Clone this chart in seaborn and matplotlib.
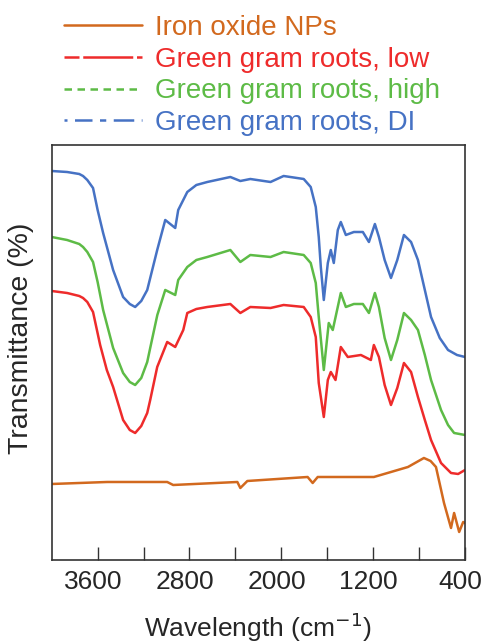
import numpy as np
import pandas as pd
import matplotlib
matplotlib.use("Agg")
import matplotlib.pyplot as plt
import matplotlib.transforms as mtransforms
from matplotlib.lines import Line2D
import seaborn as sns

# spectra (wavenumber, relative transmittance, arbitrary offsets)
wn_di = [4000, 3866, 3760, 3727, 3690, 3640, 3600, 3552, 3465, 3378, 3320, 3273, 3220, 3168,
         3081, 3011, 2924, 2898, 2819, 2740, 2645, 2444, 2357, 2270, 2094, 1980, 1805, 1744,
         1700, 1674, 1656, 1630, 1595, 1569, 1543, 1508, 1482, 1438, 1368, 1290, 1237, 1185,
         1150, 1100, 1045, 990, 932, 870, 810, 750, 696, 620, 548, 470, 400]
t_di = [389, 388, 386, 384, 380, 372, 350, 327, 290, 263, 256, 253, 259, 270,
        310, 340, 332, 350, 368, 375, 378, 383, 379, 381, 378, 384, 381, 373,
        353, 323, 293, 260, 297, 310, 297, 330, 338, 325, 328, 328, 318, 336,
        323, 300, 282, 300, 325, 318, 300, 270, 243, 222, 210, 205, 203]

wn_high = [4000, 3866, 3760, 3727, 3690, 3640, 3600, 3552, 3465, 3378, 3320, 3273, 3220, 3168,
           3142, 3080, 3011, 2924, 2898, 2819, 2740, 2645, 2444, 2357, 2270, 2094, 1980, 1805,
           1744, 1700, 1674, 1630, 1587, 1552, 1482, 1438, 1368, 1290, 1237, 1185, 1150, 1100,
           1045, 990, 932, 870, 810, 750, 696, 609, 548, 495, 400]
t_high = [323, 320, 316, 313, 308, 298, 278, 250, 212, 187, 178, 175, 182, 198,
          212, 245, 270, 265, 280, 293, 300, 303, 310, 298, 305, 303, 308, 305,
          297, 277, 243, 190, 237, 230, 267, 253, 256, 256, 247, 267, 253, 222,
          200, 220, 247, 240, 230, 205, 180, 150, 135, 127, 125]

wn_low = [4000, 3866, 3760, 3727, 3690, 3640, 3578, 3520, 3465, 3378, 3320, 3273, 3220, 3168,
          3142, 3081, 2994, 2924, 2854, 2819, 2740, 2645, 2444, 2357, 2270, 2094, 1980, 1805,
          1744, 1700, 1674, 1630, 1595, 1569, 1528, 1482, 1421, 1307, 1220, 1194, 1150, 1100,
          1045, 990, 932, 870, 810, 750, 696, 609, 522, 460, 400]
t_low = [269, 267, 264, 262, 258, 248, 215, 190, 173, 140, 130, 127, 134, 147,
         160, 193, 218, 213, 230, 247, 251, 253, 256, 247, 253, 252, 255, 253,
         243, 223, 177, 143, 180, 188, 180, 213, 203, 205, 200, 215, 203, 175,
         155, 172, 197, 188, 163, 140, 120, 97, 87, 86, 90]

wn_fe = [4000, 3517, 2994, 2942, 2383, 2357, 2296, 1771, 1727, 1683, 1194, 1045, 897, 758,
         700, 653, 583, 522, 495, 451, 416, 400]
t_fe = [76, 78, 78, 75, 78, 72, 79, 83, 77, 83, 83, 88, 93, 102,
        99, 93, 57, 32, 47, 28, 38, 37]

labels = ["Iron oxide NPs", "Green gram roots, low", "Green gram roots, high", "Green gram roots, DI"]
colors = ["#D2691E", "#EE2B2B", "#5DBB46", "#4672C4"]
dashes = [(None, None), (6, 1.5, 14, 0), (3, 2.2), (1.2, 3, 7, 3, 2.5, 3, 7, 0)]

sns.set_style("ticks")
plt.rcParams['font.family'] = ['Liberation Sans', 'DejaVu Sans']

fig = plt.figure(figsize=(4.85, 6.43), dpi=100)
ax = fig.add_axes([0.1066, 0.1291, 0.8522, 0.6454])

series = [(wn_fe, t_fe), (wn_low, t_low), (wn_high, t_high), (wn_di, t_di)]
for (wn, t), c in zip(series, colors):
    df = pd.DataFrame({"wn": wn, "t": t})
    sns.lineplot(data=df, x="wn", y="t", color=c, lw=1.8, estimator=None, ax=ax)

ax.set_xlim(4000, 400)
ax.set_ylim(0, 415)
ax.set_xticks([3600, 2800, 2000, 1200, 400])
ax.set_xticklabels(["3600", "2800", "2000", "1200", "400"])
ax.set_xticks([3200, 2400, 1600, 800], minor=True)
ax.tick_params(axis="x", which="both", direction="in", length=9.5, width=1,
               color="#333333", labelsize=19, pad=7)
ax.tick_params(axis="y", left=False, labelleft=False)
for sp in ax.spines.values():
    sp.set_visible(True)
    sp.set_color("#333333")
    sp.set_linewidth(1.2)

# labels sit a little left of their ticks in the original
offset = mtransforms.ScaledTranslation(-0.045, 0, fig.dpi_scale_trans)
for lbl in ax.get_xticklabels():
    lbl.set_transform(lbl.get_transform() + offset)

ax.set_xlabel("Wavelength (cm$^{-1}$)", fontsize=19, labelpad=12)
ax.set_ylabel("Transmittance (%)", fontsize=20.5)
ax.yaxis.set_label_coords(-0.043, 0.535)

handles = []
for c, d in zip(colors, dashes):
    h = Line2D([0], [0], color=c, lw=1.8)
    if d[0] is not None:
        h.set_dashes(d)
    handles.append(h)
fig.legend(handles, labels, loc="upper left", bbox_to_anchor=(0.104, 0.998),
           frameon=False, fontsize=20, handlelength=2.8, handletextpad=0.45,
           labelspacing=0.2, borderpad=0, labelcolor=colors)

fig.savefig("out.png", dpi=100)
